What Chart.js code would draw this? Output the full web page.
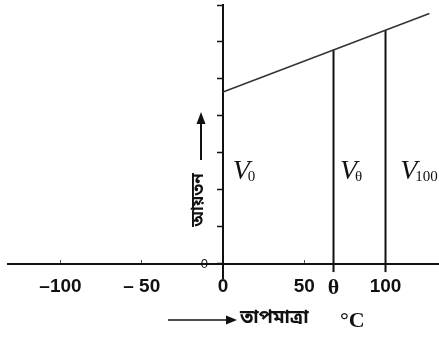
<!DOCTYPE html>
<html>
<head>
<meta charset="utf-8">
<script src="https://cdn.jsdelivr.net/npm/chart.js@4/dist/chart.umd.min.js"></script>
<style>
	html, body { margin: 0; padding: 0; background: #fff; }
	#wrap { width: 439px; height: 339px; }
</style>
</head>
<body>
<div id="wrap"><canvas id="chart" width="439" height="339"></canvas></div>
<script>
// temperature (°C) vs volume, volume in tick units
const lineTemps = [0, 127];
const lineVolumes = [4.65, 6.77];

// the two marked temperatures: θ and 100
const markTemps = [68, 100];
const markVolumes = [5.79, 6.32];

const xTickValues = [-100, -50, 0, 50, 68, 100];
const xTickLabels = ["–100", "– 50", "0", "50", "θ", "100"];
const yTickValues = [0, 1, 2, 3, 4, 5, 6, 7];

const vLabels = ["0", "θ", "100"];

const lineData = lineTemps.map((t, i) => ({ x: t, y: lineVolumes[i] }));

const dropSets = markTemps.map((t, i) => ({
	data: [{ x: t, y: -0.22 }, { x: t, y: markVolumes[i] }],
	borderColor: "#111",
	borderWidth: 2,
	pointRadius: 0,
	showLine: true,
}));

const bengali = "'Noto Sans Bengali', 'Noto Serif Bengali', 'Lohit Bengali', 'Noto Sans', sans-serif";

const annot = {
	id: "annot",
	afterDraw(chart) {
		const { ctx, scales: { x, y } } = chart;
		ctx.save();
		ctx.fillStyle = "#111";
		ctx.strokeStyle = "#111";

		// V labels
		const vx = [6, 72, 109];
		const base = y.getPixelForValue(2.3);
		vLabels.forEach((sub, i) => {
			const px = x.getPixelForValue(vx[i]);
			ctx.font = "italic 28px 'Liberation Serif', serif";
			ctx.textAlign = "left";
			ctx.textBaseline = "alphabetic";
			ctx.fillText("V", px, base);
			const w = ctx.measureText("V").width;
			ctx.font = "15px 'Liberation Serif', serif";
			ctx.fillText(sub, px + w - 2, base + 2);
		});

		// "0" at the origin, left of the y axis
		ctx.font = "13px 'Liberation Sans', sans-serif";
		ctx.textAlign = "right";
		ctx.textBaseline = "middle";
		ctx.fillText("0", x.getPixelForValue(0) - 15, y.getPixelForValue(0));

		// y title: arrow up + rotated text
		const ax = x.getPixelForValue(0) - 22;
		ctx.lineWidth = 2;
		ctx.beginPath();
		ctx.moveTo(ax, 160);
		ctx.lineTo(ax, 122);
		ctx.stroke();
		ctx.beginPath();
		ctx.moveTo(ax, 112);
		ctx.lineTo(ax - 4.5, 124);
		ctx.lineTo(ax + 4.5, 124);
		ctx.closePath();
		ctx.fill();

		ctx.save();
		ctx.translate(ax - 1, 200);
		ctx.rotate(-Math.PI / 2);
		ctx.font = "bold 17px " + bengali;
		ctx.textAlign = "center";
		ctx.textBaseline = "middle";
		ctx.fillText("আয়তন", 0, 0);
		ctx.restore();

		// x title: arrow right + text
		ctx.lineWidth = 1.5;
		ctx.beginPath();
		ctx.moveTo(168, 320);
		ctx.lineTo(228, 320);
		ctx.stroke();
		ctx.beginPath();
		ctx.moveTo(237, 320);
		ctx.lineTo(226, 315.5);
		ctx.lineTo(226, 324.5);
		ctx.closePath();
		ctx.fill();

		ctx.font = "bold 19px " + bengali;
		ctx.textAlign = "left";
		ctx.textBaseline = "middle";
		ctx.fillText("তাপমাত্রা", 240, 319);
		ctx.font = "bold 22px 'Liberation Serif', serif";
		ctx.fillText("°C", 340, 321);
		ctx.restore();
	},
};

new Chart(document.getElementById("chart"), {
	type: "scatter",
	data: {
		datasets: [
			{
				data: lineData,
				borderColor: "#333",
				borderWidth: 1.5,
				pointRadius: 0,
				showLine: true,
			},
			...dropSets,
		],
	},
	options: {
		responsive: false,
		animation: false,
		devicePixelRatio: 1,
		layout: { padding: { left: 8, right: 1, top: 5, bottom: 61 } },
		plugins: { legend: { display: false }, tooltip: { enabled: false } },
		scales: {
			x: {
				type: "linear",
				min: -132.3,
				max: 132.3,
				position: { y: 0 },
				afterBuildTicks: (s) => { s.ticks = xTickValues.map((v) => ({ value: v })); },
				border: { color: "#111", width: 2 },
				grid: { drawOnChartArea: false, drawTicks: true, tickLength: -5, tickColor: "#555", tickWidth: 1 },
				ticks: {
					color: "#111",
					padding: 16,
					maxRotation: 0,
					autoSkip: false,
					font: (c) => c.tick && c.tick.value === 68
						? { family: "'Liberation Serif', serif", size: 22, weight: "bold" }
						: { family: "'Liberation Sans', Arial, sans-serif", size: 19, weight: "bold" },
					callback: (v) => xTickLabels[xTickValues.indexOf(v)],
				},
			},
			y: {
				type: "linear",
				min: -0.38,
				max: 7,
				position: { x: 0 },
				afterBuildTicks: (s) => { s.ticks = yTickValues.map((v) => ({ value: v })); },
				border: { color: "#111", width: 2 },
				grid: { drawOnChartArea: false, drawTicks: true, tickLength: 5, tickColor: "#111", tickWidth: 1.5 },
				ticks: { display: false },
			},
		},
	},
	plugins: [annot],
});
</script>
</body>
</html>
